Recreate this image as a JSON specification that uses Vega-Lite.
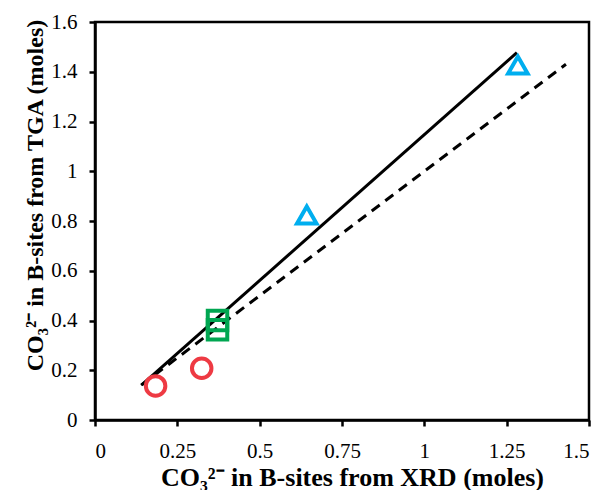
{
  "$schema": "https://vega.github.io/schema/vega-lite/v6.json",
  "width": 494,
  "height": 398,
  "autosize": {"type": "none"},
  "padding": {"left": 95, "top": 22, "right": 17, "bottom": 70},
  "background": "white",
  "config": {
    "view": {"stroke": "black", "strokeWidth": 2.5},
    "font": "Liberation Serif",
    "axis": {
      "grid": false,
      "domainColor": "black",
      "domainWidth": 2.5,
      "tickColor": "black",
      "tickWidth": 2.5,
      "tickSize": 6,
      "labelFont": "Liberation Serif",
      "labelFontSize": 21,
      "labelColor": "black",
      "titleFont": "Liberation Serif",
      "titleFontSize": 24,
      "titleFontWeight": "bold",
      "titleColor": "black"
    }
  },
  "layer": [
    {
      "data": {"values": [{"x": 0.14, "y": 0.14}, {"x": 1.43, "y": 1.43}]},
      "mark": {"type": "line", "color": "black", "strokeWidth": 3, "strokeDash": [10, 7]},
      "encoding": {
        "x": {"field": "x", "type": "quantitative", "scale": {"domain": [0, 1.5], "nice": false},
          "axis": {"values": [0, 0.25, 0.5, 0.75, 1, 1.25, 1.5], "labelExpr": "toString(datum.value)",
            "labelBaseline": "alphabetic", "labelPadding": 31,
            "title": "CO₃²⁻ in B-sites from XRD (moles)", "titleFontSize": 26,
            "titleBaseline": "alphabetic", "titleX": 257, "titleY": 65}},
        "y": {"field": "y", "type": "quantitative", "scale": {"domain": [0, 1.6], "nice": false},
          "axis": {"values": [0, 0.2, 0.4, 0.6, 0.8, 1, 1.2, 1.4, 1.6], "labelExpr": "toString(datum.value)",
            "labelPadding": 12,
            "title": "CO₃²⁻ in B-sites from TGA (moles)",
            "titleBaseline": "alphabetic", "titleAngle": -90, "titleX": -53, "titleY": 173}}
      }
    },
    {
      "data": {"values": [{"x": 0.142, "y": 0.141}, {"x": 1.281, "y": 1.477}]},
      "mark": {"type": "line", "color": "black", "strokeWidth": 3},
      "encoding": {
        "x": {"field": "x", "type": "quantitative"},
        "y": {"field": "y", "type": "quantitative"}
      }
    },
    {
      "data": {"values": [
        {"group": "A", "x": 0.184, "y": 0.137},
        {"group": "A", "x": 0.324, "y": 0.208},
        {"group": "B", "x": 0.372, "y": 0.363},
        {"group": "B", "x": 0.372, "y": 0.40},
        {"group": "C", "x": 0.643, "y": 0.824},
        {"group": "C", "x": 1.284, "y": 1.427}
      ]},
      "mark": {"type": "point", "filled": false, "strokeWidth": 4, "size": 380, "opacity": 1},
      "encoding": {
        "x": {"field": "x", "type": "quantitative"},
        "y": {"field": "y", "type": "quantitative"},
        "shape": {"field": "group", "type": "nominal", "scale": {"domain": ["A", "B", "C"], "range": ["circle", "square", "triangle-up"]}, "legend": null},
        "color": {"field": "group", "type": "nominal", "scale": {"domain": ["A", "B", "C"], "range": ["#EE3A43", "#00A651", "#00AEEF"]}, "legend": null}
      }
    }
  ]
}
